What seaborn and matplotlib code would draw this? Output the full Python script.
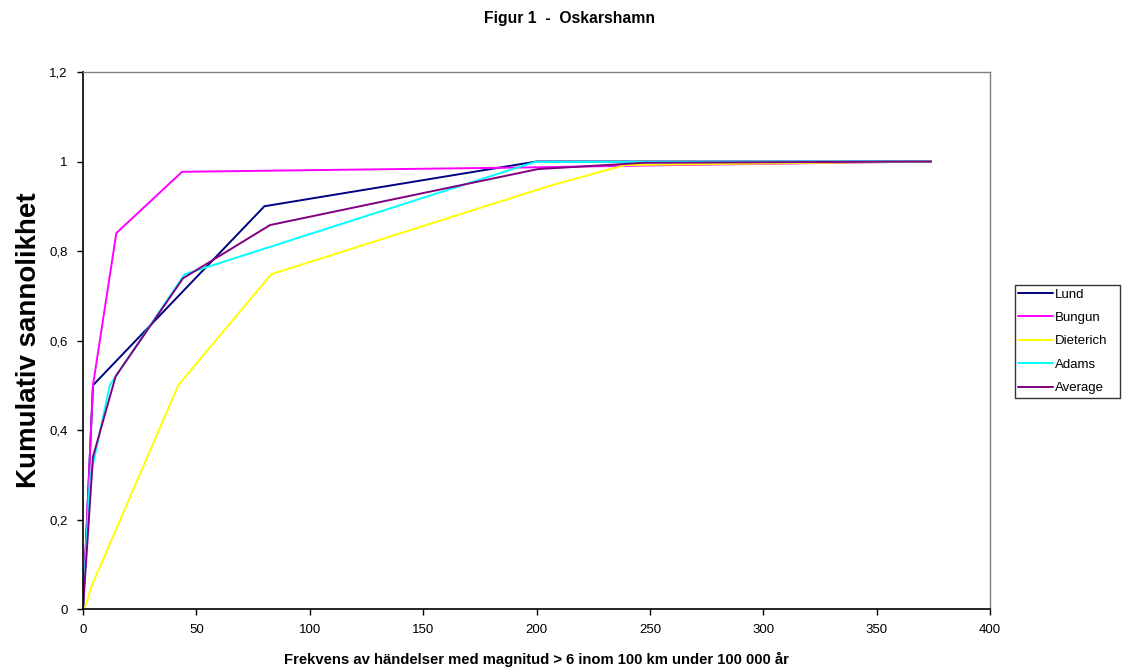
import matplotlib
matplotlib.use("Agg")
import matplotlib.pyplot as plt
import seaborn as sns
import pandas as pd
from matplotlib.ticker import FuncFormatter

sns.set_style("white")
plt.rcParams['font.family'] = ['Liberation Sans', 'DejaVu Sans']
plt.rcParams['text.color'] = 'black'
plt.rcParams['axes.labelcolor'] = 'black'

lund_x = [0, 4.4, 80, 200, 374]
lund_y = [0, 0.5, 0.9, 1.0, 1.0]
bungun_x = [0, 4.4, 14.7, 43.7, 200, 247, 374]
bungun_y = [0, 0.5, 0.84, 0.977, 0.987, 0.991, 1.0]
dieterich_x = [0.7, 3.7, 42, 83, 206, 239, 374]
dieterich_y = [0, 0.05, 0.5, 0.748, 0.946, 0.992, 1.0]
adams_x = [0, 3.0, 11.8, 44.8, 199.3, 374]
adams_y = [0, 0.29, 0.5, 0.748, 0.999, 1.0]
average_x = [0, 4.4, 14.4, 44.1, 82.5, 200.6, 247, 374]
average_y = [0, 0.34, 0.52, 0.739, 0.858, 0.983, 0.997, 1.0]

series = ["Lund", "Bungun", "Dieterich", "Adams", "Average"]
colors = ["#000080", "#FF00FF", "#FFFF00", "#00FFFF", "#800080"]

frames = []
for name, xs, ys in zip(series,
                        [lund_x, bungun_x, dieterich_x, adams_x, average_x],
                        [lund_y, bungun_y, dieterich_y, adams_y, average_y]):
    frames.append(pd.DataFrame({"x": xs, "y": ys, "serie": name, "order": range(len(xs))}))
df = pd.concat(frames, ignore_index=True)

fig = plt.figure(figsize=(11.24, 6.68), dpi=100)
ax = fig.add_axes([83/1124, 1-609/668, (990-83)/1124, (609-72)/668])

sns.lineplot(data=df, x="x", y="y", hue="serie", hue_order=series,
             palette=colors, estimator=None, sort=False, linewidth=1.4, ax=ax)

ax.set_xlim(0, 400)
ax.set_ylim(0, 1.2)
ax.set_xticks(range(0, 401, 50))
ax.set_yticks([0, 0.2, 0.4, 0.6, 0.8, 1.0, 1.2])
fmt = lambda v, p: ("%g" % round(v, 1)).replace(".", ",")
ax.yaxis.set_major_formatter(FuncFormatter(fmt))
ax.tick_params(axis="both", which="major", direction="out", length=4, width=1,
               labelsize=9.5, colors="black", bottom=True, left=True, pad=7)
for side in ["left", "bottom"]:
    ax.spines[side].set_color("black")
    ax.spines[side].set_linewidth(1.2)
for side in ["top", "right"]:
    ax.spines[side].set_color("#808080")
    ax.spines[side].set_linewidth(1.0)

ax.set_xlabel("Frekvens av händelser med magnitud > 6 inom 100 km under 100 000 år",
              fontsize=10.7, fontweight="bold", labelpad=11)
ax.set_ylabel("Kumulativ sannolikhet", fontsize=20, fontweight="bold", labelpad=5)

fig.text(569/1124, 1-18/668, "Figur 1  -  Oskarshamn", ha="center", va="center",
         fontsize=11.3, fontweight="bold")

leg = ax.legend(loc="upper left",
                bbox_to_anchor=(1015/1124, 1-398/668, 105/1124, 113/668),
                bbox_transform=fig.transFigure, mode="expand",
                frameon=True, fancybox=False, fontsize=9.5, handlelength=2.6,
                borderpad=0.25, labelspacing=0.85, handletextpad=0.2, borderaxespad=0)
leg.get_frame().set_edgecolor("black")
leg.get_frame().set_linewidth(1.0)
for line in leg.get_lines():
    line.set_linewidth(1.4)

fig.savefig("out.png", dpi=100)
